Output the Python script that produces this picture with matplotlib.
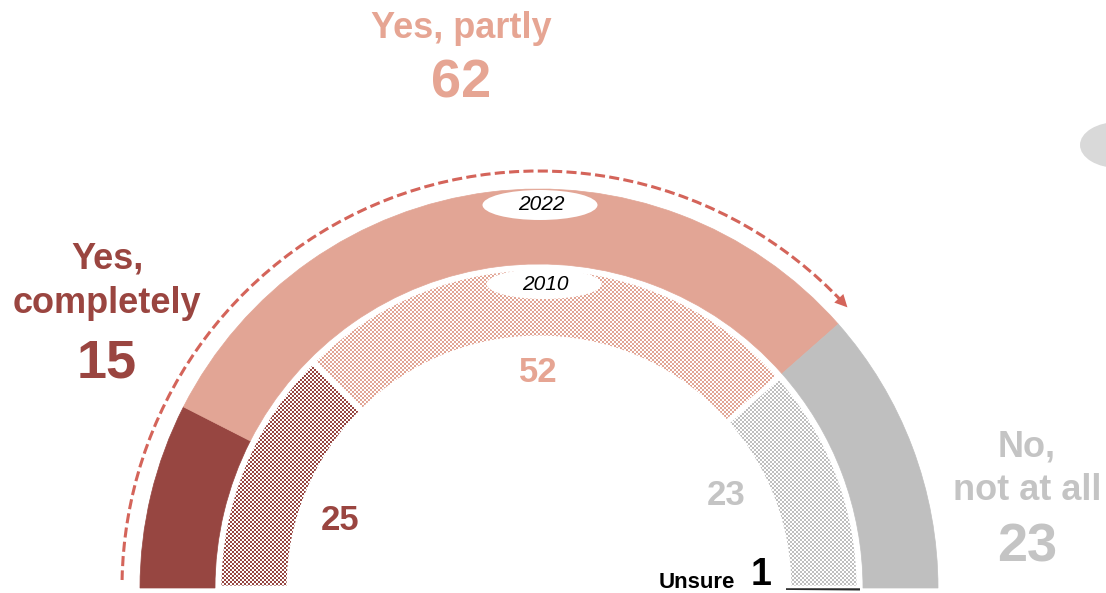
import numpy as np
import matplotlib
matplotlib.use("Agg")
import matplotlib.pyplot as plt
from matplotlib.patches import Wedge, Ellipse, Arc

# =========================
# data
# =========================
categories = ["Yes, completely", "Yes, partly", "No, not at all"]
values_2022 = [15, 62, 23]
values_2010 = [25, 52, 23]
unsure_2010 = 1
year_labels = ["2022", "2010"]

colors = ["#974641", "#e2a595", "#bfbfbf"]
text_colors = ["#9a4540", "#e6a593", "#c4c4c4"]

W, H = 1106, 593
CX, CY = 539, 5          # centre of the half circle (y up)
R_OUT = (324, 399)       # 2022 ring
R_IN = (251, 319)        # 2010 ring

plt.rcParams["font.family"] = ["Liberation Sans", "DejaVu Sans"]

fig = plt.figure(figsize=(W / 100, H / 100), dpi=100)
ax = fig.add_axes([0, 0, 1, 1])
ax.set_xlim(0, W)
ax.set_ylim(0, H)
ax.axis("off")
ax.patch.set_visible(False)


def py(y):
    # pixel row from top -> data y
    return H - y


def angles(vals):
    out = []
    start = 180.0
    for v in vals:
        end = start - v / 100.0 * 180.0
        out.append((end, start))
        start = end
    return out


# outer ring (2022), solid
for (t1, t2), c in zip(angles(values_2022), colors):
    ax.add_patch(Wedge((CX, CY), R_OUT[1], t1, t2, width=R_OUT[1] - R_OUT[0],
                       facecolor=c, edgecolor=c, lw=0.5))

# inner ring (2010), checker pattern clipped to each wedge
ii, jj = np.mgrid[0:H, 0:W]
checker = ((ii // 2 + jj // 2) % 2 == 0)
for (t1, t2), c in zip(angles(values_2010), colors):
    rgb = np.array(matplotlib.colors.to_rgb(c))
    img = np.ones((H, W, 3))
    img[checker] = rgb
    wedge = Wedge((CX, CY), R_IN[1], t1, t2, width=R_IN[1] - R_IN[0],
                  facecolor="none", edgecolor="none")
    ax.add_patch(wedge)
    im = fig.figimage(img, xo=0, yo=0, origin="lower", zorder=-1)
    im.set_clip_path(wedge)
    ax.add_patch(Wedge((CX, CY), R_IN[1] + 1, t1, t2, width=R_IN[1] - R_IN[0] + 2,
                       facecolor="none", edgecolor="white", lw=3.5, zorder=2))

# unsure sliver
ax.add_patch(Wedge((CX, CY), R_IN[1] + 2, -0.45, -0.05, width=R_IN[1] - R_IN[0] + 6,
                   facecolor="#2b2b2b", edgecolor="none", zorder=3))

# year tags
ax.add_patch(Ellipse((540, py(205)), 115, 30, facecolor="white", edgecolor="none", zorder=4))
ax.text(541, py(205), year_labels[0], ha="center", va="center", fontsize=15,
        style="italic", color="black", zorder=5)
ax.add_patch(Ellipse((544, py(284)), 115, 30, facecolor="white", edgecolor="none", zorder=4))
ax.text(545, py(284), year_labels[1], ha="center", va="center", fontsize=15,
        style="italic", color="black", zorder=5)

# dashed arrow arc
arrow_c = "#d4645a"
R_ARC = 417
a0, a1 = 42.6, 178.9
ax.add_patch(Arc((CX, CY), 2 * R_ARC, 2 * R_ARC, theta1=a0 + 0.8, theta2=a1,
                 color=arrow_c, lw=2.2, ls=(0, (3.3, 1.4)), zorder=3))
tip = np.deg2rad(a0 - 0.3)
back = np.deg2rad(a0 + 2.2)
ax.annotate("", xy=(CX + R_ARC * np.cos(tip), CY + R_ARC * np.sin(tip)),
            xytext=(CX + R_ARC * np.cos(back), CY + R_ARC * np.sin(back)),
            arrowprops=dict(arrowstyle="-|>,head_length=0.9,head_width=0.45",
                            color=arrow_c, lw=0, shrinkA=0, shrinkB=0), zorder=3)

# category labels
ax.text(461, py(38), "Yes, partly", ha="center", va="baseline", fontsize=26,
        fontweight="bold", color=text_colors[1])
ax.text(461, py(98), str(values_2022[1]), ha="center", va="baseline", fontsize=39,
        fontweight="bold", color=text_colors[1])

ax.text(107, py(268), "Yes,", ha="center", va="baseline", fontsize=26,
        fontweight="bold", color=text_colors[0])
ax.text(107, py(313), "completely", ha="center", va="baseline", fontsize=26,
        fontweight="bold", color=text_colors[0])
ax.text(107, py(377), str(values_2022[0]), ha="center", va="baseline", fontsize=39,
        fontweight="bold", color=text_colors[0])

ax.text(1027, py(457), "No,", ha="center", va="baseline", fontsize=26,
        fontweight="bold", color=text_colors[2])
ax.text(1027, py(500), "not at all", ha="center", va="baseline", fontsize=26,
        fontweight="bold", color=text_colors[2])
ax.text(1027, py(562), str(values_2022[2]), ha="center", va="baseline", fontsize=39,
        fontweight="bold", color=text_colors[2])

# 2010 values
ax.text(340, py(530), str(values_2010[0]), ha="center", va="baseline", fontsize=25,
        fontweight="bold", color=text_colors[0])
ax.text(538, py(382), str(values_2010[1]), ha="center", va="baseline", fontsize=25,
        fontweight="bold", color=text_colors[1])
ax.text(726, py(505), str(values_2010[2]), ha="center", va="baseline", fontsize=25,
        fontweight="bold", color=text_colors[2])

ax.text(735, py(588), "Unsure", ha="right", va="baseline", fontsize=16,
        fontweight="bold", color="black")
ax.text(761, py(585), str(unsure_2010), ha="center", va="baseline", fontsize=27,
        fontweight="bold", color="black")

# grey blob cut at the right edge
ax.add_patch(Ellipse((1118, py(145)), 76, 46, facecolor="#d9d9d9", edgecolor="none"))

fig.savefig("out.png", dpi=100, facecolor="white")
